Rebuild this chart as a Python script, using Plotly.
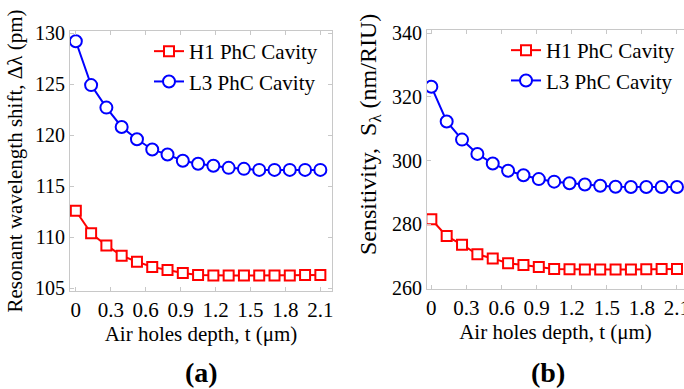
import plotly.graph_objects as go

depth = [0, 0.13125, 0.2625, 0.39375, 0.525, 0.65625, 0.7875, 0.91875, 1.05,
         1.18125, 1.3125, 1.44375, 1.575, 1.70625, 1.8375, 1.96875, 2.1]

shift_h1 = [112.6, 110.4, 109.2, 108.2, 107.6, 107.1, 106.8, 106.5, 106.3,
            106.25, 106.25, 106.25, 106.25, 106.25, 106.25, 106.3, 106.3]
shift_l3 = [129.2, 124.9, 122.7, 120.8, 119.6, 118.6, 118.1, 117.5, 117.2,
            117.0, 116.8, 116.7, 116.6, 116.6, 116.6, 116.6, 116.6]

sens_h1 = [281.6, 276.3, 273.6, 270.6, 269.3, 267.8, 267.2, 266.6, 266.0,
           265.9, 265.8, 265.8, 265.8, 265.8, 265.9, 266.0, 266.0]
sens_l3 = [323.2, 312.3, 306.6, 302.1, 299.1, 296.8, 295.4, 294.2, 293.4,
           292.9, 292.5, 292.1, 291.8, 291.7, 291.7, 291.7, 291.7]

x_ticks = [0, 0.3, 0.6, 0.9, 1.2, 1.5, 1.8, 2.1]
x_ticklabels = ["0", "0.3", "0.6", "0.9", "1.2", "1.5", "1.8", "2.1"]
y1_ticks = [105, 110, 115, 120, 125, 130]
y2_ticks = [260, 280, 300, 320, 340]

names = ["H1 PhC Cavity", "L3 PhC Cavity"]
RED = "#ff0000"
BLUE = "#0000ff"
FONT = "Times New Roman, Liberation Serif, serif"
AXC = "#c8c8c8"

fig = go.Figure()

def add(x, y, name, color, symbol, size, xa, ya, legend):
    fig.add_trace(go.Scatter(
        x=x, y=y, name=name, mode="lines+markers", xaxis=xa, yaxis=ya,
        legend=legend,
        line=dict(color=color, width=2),
        marker=dict(symbol=symbol, size=size, color="white",
                    line=dict(color=color, width=2)),
    ))

add(depth, shift_h1, names[0], RED, "square", 10, "x", "y", "legend")
add(depth, shift_l3, names[1], BLUE, "circle", 12, "x", "y", "legend")
add(depth, sens_h1, names[0], RED, "square", 10, "x2", "y2", "legend2")
add(depth, sens_l3, names[1], BLUE, "circle", 12, "x2", "y2", "legend2")

W, H = 684, 389
def px(x):
    return x / W
def py(y):
    return 1 - y / H

common_x = dict(
    tickvals=x_ticks, ticktext=x_ticklabels, ticks="inside", ticklen=4,
    tickcolor=AXC, showline=True, linecolor=AXC, linewidth=1, showgrid=False,
    zeroline=False, tickfont=dict(family=FONT, size=21, color="black"),
    ticklabeloverflow="allow",
    title=dict(text="Air holes depth, t (μm)",
               font=dict(family=FONT, size=21, color="black"), standoff=4),
    automargin=False,
)
common_y = dict(
    ticks="inside", ticklen=4, tickcolor=AXC, showline=True, linecolor=AXC,
    linewidth=1, showgrid=False, zeroline=False,
    tickfont=dict(family=FONT, size=20, color="black"), automargin=False,
)

fig.update_layout(
    width=W, height=H,
    margin=dict(l=0, r=0, t=0, b=0),
    paper_bgcolor="white", plot_bgcolor="white",
    font=dict(family=FONT, color="black"),
    xaxis=dict(common_x, domain=[px(70), px(332)], range=[-0.05, 2.2],
               anchor="y", mirror="ticks"),
    yaxis=dict(common_y, domain=[py(291), py(31)], range=[104.74, 130.2],
               tickvals=y1_ticks, anchor="x", mirror="ticks",
               title=dict(text="Resonant wavelength shift, Δλ (pm)",
                          font=dict(family=FONT, size=21, color="black"),
                          standoff=6)),
    xaxis2=dict(common_x, domain=[px(427), 1.0], range=[-0.037, 2.16],
                anchor="y2", mirror="ticks"),
    yaxis2=dict(common_y, domain=[py(289), py(30)], range=[259.7, 341],
                tickvals=y2_ticks, anchor="x2", mirror=False),
    legend=dict(x=px(149), y=py(31), xanchor="left", yanchor="top",
                bgcolor="rgba(0,0,0,0)", font=dict(family=FONT, size=21, color="black"),
                tracegroupgap=0, itemwidth=30),
    legend2=dict(x=px(506), y=py(30), xanchor="left", yanchor="top",
                 bgcolor="rgba(0,0,0,0)", font=dict(family=FONT, size=21, color="black"),
                 tracegroupgap=0, itemwidth=30),
    annotations=[
        dict(text="Sensitivity,  S<sub>λ</sub> (nm/RIU)", textangle=-90,
             x=px(370), y=py(135), xref="paper", yref="paper", showarrow=False,
             xanchor="center", yanchor="middle",
             font=dict(family=FONT, size=24, color="black")),
        dict(text="<b>(a)</b>", x=px(201), y=py(372), xref="paper", yref="paper",
             showarrow=False, xanchor="center", yanchor="middle",
             font=dict(family=FONT, size=28, color="black")),
        dict(text="<b>(b)</b>", x=px(548), y=py(372), xref="paper", yref="paper",
             showarrow=False, xanchor="center", yanchor="middle",
             font=dict(family=FONT, size=28, color="black")),
    ],
)

fig.write_html("out.html", config={"displayModeBar": False},
               post_script="document.body.style.margin='0';document.body.style.padding='0';")
